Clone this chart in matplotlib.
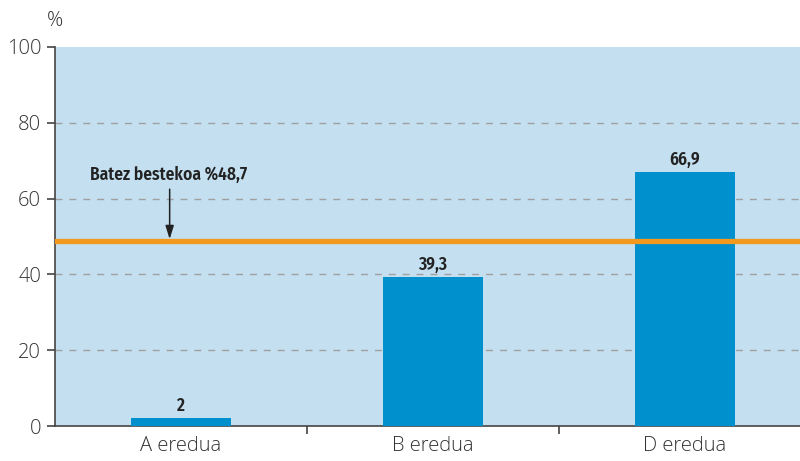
import matplotlib
matplotlib.use("Agg")
import matplotlib.pyplot as plt
from matplotlib.ticker import FixedLocator

categories = ["A eredua", "B eredua", "D eredua"]
values = [2.0, 39.3, 66.9]
value_labels = ["2", "39,3", "66,9"]
average = 48.7
average_label = "Batez bestekoa %48,7"
yticks = [0, 20, 40, 60, 80, 100]

bg = "#C3DFF0"
bar_color = "#0090CE"
orange = "#F39A1E"
text_col = "#333333"

fig = plt.figure(figsize=(8, 4.61), dpi=100)
ax = fig.add_axes([55/800, 1-426/461, 756/800, (426-47)/461])
ax.set_facecolor(bg)

x = list(range(len(categories)))
ax.bar(x, values, width=0.40, color=bar_color, zorder=3)
ax.set_xlim(-0.5, 2.5)
ax.set_ylim(0, 100)

for yv in yticks[1:-1]:
    ax.axhline(yv, color="#a0a0a0", lw=1, ls=(0, (5, 5)), zorder=2)

ax.axhline(average, color=orange, lw=3.8, zorder=4)

label_font = dict(family=["Fira Sans Condensed", "DejaVu Sans"], fontweight=600,
                  fontsize=12.5, color="#222222")
for xi, v, lab in zip(x, values, value_labels):
    ax.text(xi, v + 1.0, lab, ha="center", va="bottom", zorder=5, **label_font)

ax.annotate("", xy=(-0.045, average + 0.6), xytext=(-0.045, 62.5),
            arrowprops=dict(arrowstyle="-|>,head_length=0.8,head_width=0.25",
                            color="#222222", lw=1.1, shrinkA=0, shrinkB=0), zorder=6)
ax.text(-0.05, 64.0, average_label, ha="center", va="bottom", zorder=5, **label_font)

for s in ["top", "right"]:
    ax.spines[s].set_visible(False)
for s in ["left", "bottom"]:
    ax.spines[s].set_color("#444444")
    ax.spines[s].set_linewidth(1.2)

ax.set_yticks(yticks)
ax.set_yticklabels([str(t) for t in yticks])
ax.set_xticks(x)
ax.set_xticklabels(categories)
ax.xaxis.set_minor_locator(FixedLocator([0.5, 1.5]))
ax.tick_params(axis="x", which="major", length=0, pad=7)
ax.tick_params(axis="x", which="minor", length=6, color="#444444", width=1.2)
ax.tick_params(axis="y", length=6, color="#444444", width=1.2, pad=4)
for lab in ax.get_xticklabels() + ax.get_yticklabels():
    lab.set_fontfamily(["Open Sans", "DejaVu Sans"])
    lab.set_fontweight(300)
    lab.set_fontsize(14.5)
    lab.set_color(text_col)

fig.text(55/800, 1-21/461, "%", ha="center", va="center", fontsize=14.5, fontweight=300,
         family=["Open Sans", "DejaVu Sans"], color=text_col)

fig.savefig("out.png", dpi=100, facecolor="white")
